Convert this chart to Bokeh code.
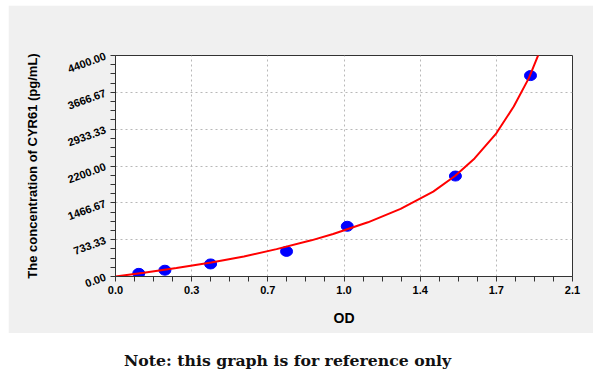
from bokeh.plotting import figure
from bokeh.models import FixedTicker, Range1d, Div
from bokeh.layouts import column
from bokeh.embed import file_html
from bokeh.resources import INLINE

# Standard points (OD, concentration)
od_points = [0.107, 0.227, 0.437, 0.786, 1.065, 1.562, 1.907]
conc_points = [62.5, 125, 250, 500, 1000, 2000, 4000]

# Fitted curve
curve_od = [0.0, 0.13, 0.28, 0.44, 0.59, 0.74, 0.90, 1.00, 1.16, 1.31, 1.46, 1.56, 1.65, 1.75, 1.83, 1.90, 1.95]
curve_conc = [0, 76, 170, 277, 397, 545, 720, 846, 1079, 1347, 1690, 2000, 2350, 2851, 3385, 3954, 4487]

# Axis ticks
x_ticks = [0.0, 0.35, 0.7, 1.05, 1.4, 1.75, 2.1]
x_tick_labels = ["0.0", "0.3", "0.7", "1.0", "1.4", "1.7", "2.1"]
y_ticks = [0.0, 733.33, 1466.67, 2200.0, 2933.33, 3666.67, 4400.0]
y_tick_labels = ["0.00", "733.33", "1466.67", "2200.00", "2933.33", "3666.67", "4400.00"]

x_minor = []
for i in range(len(x_ticks) - 1):
    step = (x_ticks[i + 1] - x_ticks[i]) / 4
    x_minor += [x_ticks[i] + step * k for k in range(1, 4)]
y_minor = []
for i in range(len(y_ticks) - 1):
    step = (y_ticks[i + 1] - y_ticks[i]) / 4
    y_minor += [y_ticks[i] + step * k for k in range(1, 4)]

p = figure(width=585, height=328, output_backend="svg", toolbar_location=None,
           x_range=Range1d(0, 2.1), y_range=Range1d(0, 4400),
           min_border_left=107, min_border_right=21, min_border_top=50, min_border_bottom=57)
p.background_fill_color = "white"
p.border_fill_color = "#f0f0f0"
p.outline_line_color = "#333333"
p.outline_line_width = 1

p.xaxis.ticker = FixedTicker(ticks=x_ticks, minor_ticks=x_minor)
p.yaxis.ticker = FixedTicker(ticks=y_ticks, minor_ticks=y_minor)
p.xaxis.major_label_overrides = {t: l for t, l in zip(x_ticks, x_tick_labels)}
p.yaxis.major_label_overrides = {t: l for t, l in zip(y_ticks, y_tick_labels)}

for ax in (p.xaxis, p.yaxis):
    ax.axis_line_color = "#333333"
    ax.major_tick_line_color = "#333333"
    ax.minor_tick_line_color = "#333333"
    ax.major_tick_out = 5
    ax.major_tick_in = 0
    ax.minor_tick_out = 5
    ax.minor_tick_in = 0
    ax.major_label_text_font = "Liberation Sans"
    ax.major_label_text_font_style = "bold"
    ax.major_label_text_color = "black"
    ax.axis_label_text_font = "Liberation Sans"
    ax.axis_label_text_font_style = "bold"
    ax.axis_label_text_color = "black"

p.xaxis.axis_label = "OD"
p.xaxis.axis_label_text_font_size = "14px"
p.xaxis.major_label_text_font_size = "11px"
p.xaxis.major_label_standoff = 4
p.xaxis.axis_label_standoff = 13

p.yaxis.axis_label = "The concentration of CYR61 (pg/mL)"
p.yaxis.axis_label_text_font_size = "13px"
p.yaxis.major_label_text_font_size = "11px"
p.yaxis.major_label_orientation = 0.35
p.yaxis.major_label_standoff = 5
p.yaxis.axis_label_standoff = 22

p.grid.grid_line_color = "#b8b8b8"
p.grid.grid_line_dash = "2 3"
p.grid.grid_line_width = 1

p.ellipse(od_points, conc_points, width=12, height=10, width_units="screen", height_units="screen",
          fill_color="#0000ff", line_color="#0000ff")
p.line(curve_od, curve_conc, line_color="#ff0000", line_width=2)

note = Div(text="Note: this graph is for reference only", width=585, height=41,
           styles={"font-family": "DejaVu Serif", "font-weight": "bold", "font-size": "15.7px",
                   "padding-left": "111px", "padding-top": "12px", "color": "#111111"})

layout = column(p, note, spacing=0, margin=(5, 0, 0, 8))
open("out.html", "w").write(file_html(layout, INLINE))
